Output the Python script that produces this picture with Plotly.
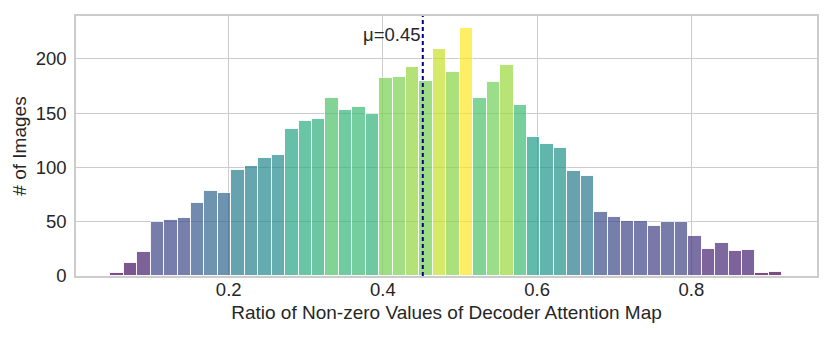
import plotly.graph_objects as go
from plotly.colors import sample_colorscale

# Histogram data (50 equal-width bins)
bin_start = 0.0465
bin_width = 0.01743
counts = [3, 12, 22, 50, 52, 53, 67, 78, 76, 98,
          101, 109, 111, 135, 143, 145, 164, 153, 156, 149,
          182, 183, 192, 180, 209, 188, 228, 164, 179, 194,
          157, 128, 122, 118, 97, 92, 59, 54, 51, 51,
          46, 50, 50, 37, 25, 30, 23, 24, 3, 4]
mean_value = 0.4517
mean_label = "μ=0.45"
x_ticks = [0.2, 0.4, 0.6, 0.8]
x_tick_labels = ["0.2", "0.4", "0.6", "0.8"]
y_ticks = [0, 50, 100, 150, 200]
x_title = "Ratio of Non-zero Values of Decoder Attention Map"
y_title = "# of Images"

centers = [bin_start + (i + 0.5) * bin_width for i in range(len(counts))]
cmin, cmax = min(counts), max(counts)
norm = [(c - cmin) / (cmax - cmin) for c in counts]
colors = sample_colorscale("Viridis", norm)

font_family = "Liberation Sans, Arial, sans-serif"
txt_color = "#262626"
grid_color = "#cccccc"
fs = 18.5
fs_title = 19

fig = go.Figure()
fig.add_trace(go.Bar(
    x=centers, y=counts, width=bin_width,
    marker=dict(color=colors, opacity=0.7, line=dict(color="rgba(255,255,255,0.9)", width=1)),
    hoverinfo="x+y",
))

fig.add_shape(type="line", xref="x", yref="paper", x0=mean_value, x1=mean_value, y0=0, y1=1,
              line=dict(color="#000080", width=2, dash="4px,3px"))
fig.add_annotation(x=mean_value, y=222, xref="x", yref="y", text=mean_label, showarrow=False,
                   xanchor="right", yanchor="middle", xshift=-1,
                   font=dict(size=fs, color=txt_color, family=font_family))

# page body has an 8px margin, so the figure is drawn from (8, 8)
fig.update_layout(
    width=822, height=331,
    margin=dict(l=68, r=13, t=6, b=63),
    plot_bgcolor="white", paper_bgcolor="white",
    showlegend=False, bargap=0,
    font=dict(family=font_family, size=fs, color=txt_color),
)
fig.update_xaxes(
    range=[0.0019, 0.963], tickvals=x_ticks, ticktext=x_tick_labels,
    showgrid=True, gridcolor=grid_color, gridwidth=1.3,
    showline=True, linecolor=grid_color, linewidth=1.5, mirror=True,
    zeroline=False, ticks="", ticklabelstandoff=-4,
    tickfont=dict(size=fs, color=txt_color),
    title=dict(text=x_title, font=dict(size=fs_title, color=txt_color), standoff=7),
)
fig.update_yaxes(
    range=[0, 239.4], tickvals=y_ticks,
    showgrid=True, gridcolor=grid_color, gridwidth=1.3,
    showline=True, linecolor=grid_color, linewidth=1.5, mirror=True,
    zeroline=False, ticks="", ticklabelstandoff=4,
    tickfont=dict(size=fs, color=txt_color),
    title=dict(text=y_title, font=dict(size=fs_title, color=txt_color), standoff=4),
)

fig.write_html("out.html")
